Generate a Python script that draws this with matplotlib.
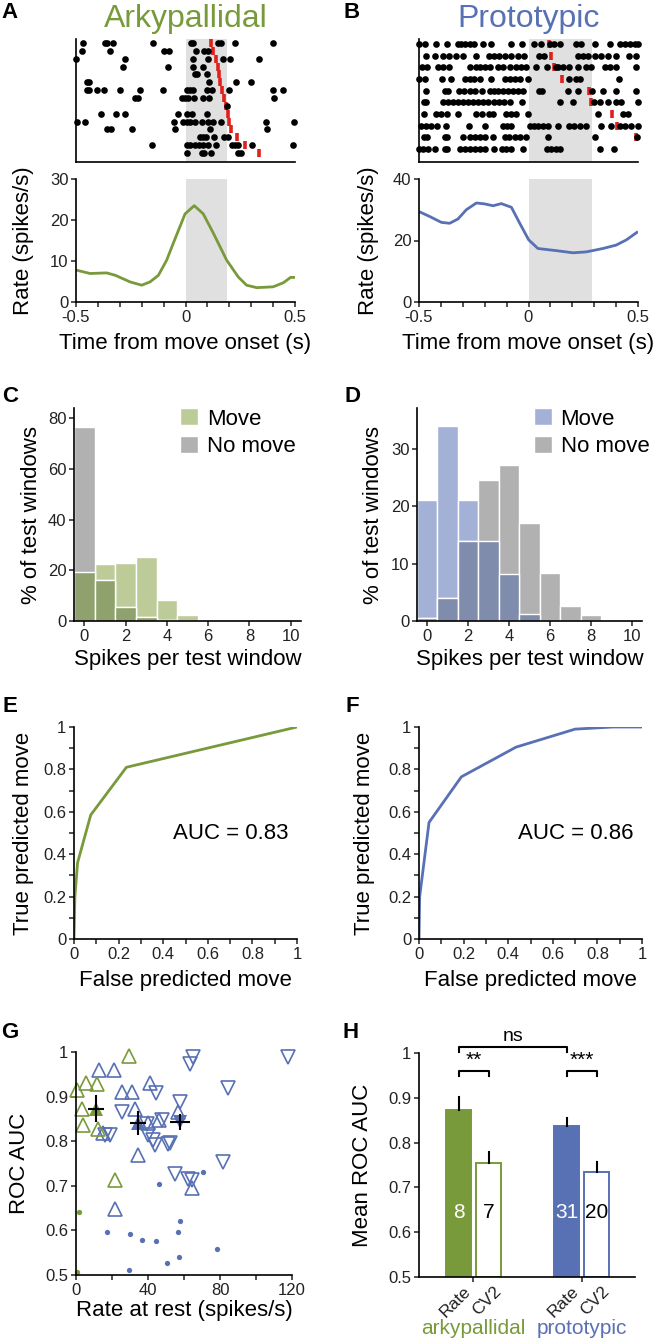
import numpy as np
import matplotlib
matplotlib.use('Agg')
import matplotlib.pyplot as plt
from matplotlib.patches import Patch

plt.rcParams['font.family'] = ['Liberation Sans', 'DejaVu Sans']
plt.rcParams['axes.unicode_minus'] = False

GREEN = '#789a3a'
BLUE = '#5870b4'

# ---- raster data (spike times in ms, one list per trial) ----
arky_spikes = [
    [-470, -368, -357, -333, -150, 24, 36, 150, 160, 228, 398],
    [-474, -345, -98, -74, 46, 84, 103],
    [-500, -276, 36, 101, 170, 203, 337],
    [-287, -78, 33, 81],
    [43, 54, 97],
    [-448, -439, 106, 231, 300],
    [-448, -439, -403, -372, -299, -208, -104, 8, 21, 33, 97, 119, 200, 398, 447],
    [-231, -216, -17, -2, 10, 40, 78, 109, 406],
    [188],
    [-387, -319, -276, -36, 8, 28, 97],
    [-494, -459, -53, -10, 8, 21, 43, 77, 104, 127, 160, 367, 497],
    [-360, -340, -246, -48, 112, 370],
    [66, 81, 92, 130, 178, 193],
    [-154, 8, 21, 43, 62, 81, 104, 139, 214, 226, 238, 302, 492],
    [8, 74, 84, 115, 238, 252],
]
arky_move_ms = [115, 127, 138, 150, 154, 159, 165, 176, 185, 193, 197, 209, 237, 272, 335]

proto_spikes = [
    [-500, -474, -424, -372, -322, -307, -292, -269, -250, -208, -170, -78, -28, 24, 59, 97,
     115, 142, 218, 241, 302, 371, 419, 439, 462, 485, 500],
    [-466, -428, -390, -363, -332, -299, -238, -180, -159, -135, -109, -78, -48, -22, 48, 69,
     226, 249, 272, 302, 333, 363, 398, 459, 489],
    [-485, -463, -413, -390, -363, -269, -241, -220, -200, -174, -139, -116, -83, -56, -33, -10,
     33, 84, 125, 135, 157, 184, 226, 264, 287, 348, 371, 398, 489],
    [-500, -474, -393, -352, -292, -269, -250, -220, -170, -109, -86, -63, -40, -2, 184, 215,
     236, 413],
    [-466, -382, -367, -317, -296, -269, -246, -211, -177, -159, -139, -116, -94, -71, -48, -25,
     48, 63, 180, 226, 290, 340, 401, 489],
    [-479, -466, -390, -367, -345, -322, -299, -276, -253, -231, -208, -185, -159, -135, -113,
     -86, -28, 142, 203, 298, 325, 363, 401, 424, 500],
    [-479, -424, -398, -372, -322, -238, -211, -180, -162, -101, -78, -56, -2, 317, 431, 454],
    [-489, -466, -443, -420, -378, -272, -200, -116, -97, -78, 5, 24, 43, 66, 89, 135, 184, 210,
     236, 264, 333, 378, 416, 439, 469, 500],
    [-479, -463, -382, -372, -299, -266, -246, -223, -200, -162, -109, -89, -63, -37, -10, 89,
     302, 497],
    [-500, -482, -459, -428, -382, -372, -311, -292, -269, -246, -223, -200, -159, -119, -101,
     -78, -25, 84, 104, 127, 145, 325, 389],
]
proto_move_ms = [92, 101, 115, 153, 276, 284, 383, 404, 492, 560]

# ---- mean rate around movement onset ----
arky_t = [-0.5, -0.436, -0.36, -0.32, -0.253, -0.2, -0.162, -0.124, -0.086, -0.056, -0.002,
          0.04, 0.081, 0.127, 0.188, 0.241, 0.279, 0.325, 0.4, 0.447, 0.48, 0.5]
arky_rate = [7.8, 6.95, 7.1, 6.5, 4.9, 4.1, 4.9, 6.5, 10.2, 14.3, 21.5, 23.5, 21.5, 16.8, 10.2,
             6.1, 4.1, 3.5, 3.7, 4.7, 6.0, 6.0]
proto_t = [-0.5, -0.451, -0.398, -0.36, -0.322, -0.284, -0.238, -0.2, -0.162, -0.124, -0.078,
           -0.04, 0.001, 0.043, 0.127, 0.203, 0.264, 0.34, 0.4, 0.447, 0.5]
proto_rate = [29.4, 27.8, 25.9, 25.6, 27.0, 30.0, 32.2, 31.9, 31.3, 32.0, 30.8, 25.6, 20.2,
              17.4, 16.7, 16.0, 16.3, 17.4, 18.5, 20.2, 22.9]
arky_window = (0, 0.19)
proto_window = (0, 0.29)

# ---- spike count histograms (%) ----
spike_bins = np.arange(11)
arky_move_pct = [19.5, 22.3, 22.8, 25.2, 8.3, 2.5, 0, 0, 0, 0, 0]
arky_nomove_pct = [76.5, 16.0, 5.5, 1.5, 0.3, 0, 0, 0, 0, 0, 0]
proto_move_pct = [21.2, 34.0, 21.2, 14.0, 8.2, 1.2, 0, 0, 0, 0, 0]
proto_nomove_pct = [0.5, 4.0, 14.0, 24.7, 27.3, 17.2, 8.3, 2.7, 1.0, 0, 0]

# ---- ROC curves ----
roc_arky_fp = [0, 0.004, 0.016, 0.075, 0.235, 1.0]
roc_arky_tp = [0, 0.2, 0.36, 0.585, 0.81, 1.0]
roc_proto_fp = [0, 0.003, 0.045, 0.19, 0.435, 0.70, 0.87, 1.0]
roc_proto_tp = [0, 0.2, 0.55, 0.765, 0.905, 0.99, 1.0, 1.0]

# ---- AUC vs rate at rest ----
arky_up_rate = [0.5, 5.8, 11.8, 29.6, 3.5, 4.0, 12.4, 21.7]
arky_up_auc = [0.914, 0.931, 0.929, 0.991, 0.873, 0.836, 0.828, 0.713]
arky_ns_rate = [1.8, 0.3]
arky_ns_auc = [0.642, 0.507]
proto_up_rate = [13.0, 21.1, 25.4, 30.9, 41.1, 32.8, 40.2, 46.3, 15.2, 34.6, 21.7, 64.3, 56.8]
proto_up_auc = [0.959, 0.959, 0.910, 0.910, 0.930, 0.873, 0.840, 0.847, 0.818, 0.768, 0.649,
                0.694, 0.865]
proto_down_rate = [65.2, 63.3, 117.9, 84.6, 44.4, 57.8, 25.4, 16.1, 18.9, 39.3, 40.2, 43.9,
                   47.6, 52.2, 55.0, 62.4, 64.3, 81.5, 43.0, 51.3]
proto_down_auc = [0.988, 0.974, 0.988, 0.920, 0.908, 0.888, 0.865, 0.813, 0.815, 0.839, 0.815,
                   0.791, 0.847, 0.795, 0.727, 0.716, 0.713, 0.753, 0.802, 0.793]
proto_ns_rate = [17.4, 30.0, 36.5, 44.4, 45.9, 50.4, 29.4, 56.8, 57.8, 57.2, 70.7, 78.1]
proto_ns_auc = [0.597, 0.593, 0.578, 0.576, 0.705, 0.526, 0.511, 0.597, 0.621, 0.541, 0.731,
                0.558]
mean_rate = [11.1, 34.3, 57.8]
mean_auc = [0.873, 0.841, 0.843]
mean_rate_err = [4.2, 4.4, 5.8]
mean_auc_err = [0.030, 0.026, 0.019]

# ---- mean ROC AUC bars ----
bar_labels = ['Rate', 'CV2', 'Rate', 'CV2']
bar_values = [0.872, 0.754, 0.838, 0.735]
bar_err = [0.030, 0.025, 0.018, 0.022]
bar_counts = [8, 7, 31, 20]

W, H = 660, 1341
fig = plt.figure(figsize=(W / 100, H / 100), dpi=100)


def px_axes(x0, y0, x1, y1):
    return fig.add_axes([x0 / W, 1 - y1 / H, (x1 - x0) / W, (y1 - y0) / H])


def style(ax):
    for s in ['top', 'right']:
        ax.spines[s].set_visible(False)
    for s in ['left', 'bottom']:
        ax.spines[s].set_linewidth(1.2)
    ax.tick_params(which='both', direction='out', length=3.5, width=1.1, labelsize=12,
                   pad=2, colors='#222222')


LBL = 16

# ---------------- A / B raster ----------------
for x0, x1, spikes, moves, win, title, col in [
        (76, 295, arky_spikes, arky_move_ms, arky_window, 'Arkypallidal', GREEN),
        (419, 638, proto_spikes, proto_move_ms, proto_window, 'Prototypic', BLUE)]:
    ax = px_axes(x0, 39, x1, 162)
    style(ax)
    ax.set_xticks([])
    ax.set_yticks([])
    ax.axvspan(win[0], win[1], color='#e0e0e0', zorder=0, lw=0)
    n = len(spikes)
    for i, (sp, mv) in enumerate(zip(spikes, moves)):
        if mv / 1000 <= 0.5:
            ax.plot(mv / 1000, i, marker='|', color='#e0201b', ms=6, mew=2.6, zorder=2)
        sp = np.array(sp) / 1000
        ax.plot(sp, np.full(len(sp), i), 'o', color='k', ms=4.8, mew=0, zorder=3, clip_on=False)
    ax.set_xlim(-0.5, 0.5)
    if n == 15:
        ax.set_ylim(15.15, -0.51)
    else:
        ax.set_ylim(10.1, -0.43)
    fig.text((x0 + x1) / 2 / W, 1 - 27 / H, title, color=col,
             fontsize=23, ha='center', va='baseline')

# ---------------- A / B rate ----------------
for x0, x1, t, r, win, col, ymax, yt, ylx in [
        (76, 295, arky_t, arky_rate, arky_window, GREEN, 30, [0, 10, 20, 30], -0.19),
        (419, 638, proto_t, proto_rate, proto_window, BLUE, 40, [0, 20, 40], -0.183)]:
    ax = px_axes(x0, 179, x1, 302)
    style(ax)
    ax.axvspan(win[0], win[1], color='#e0e0e0', zorder=0, lw=0)
    ax.plot(t, r, color=col, lw=2.0, solid_capstyle='butt')
    ax.set_xlim(-0.5, 0.5)
    ax.set_ylim(0, ymax)
    ax.set_yticks(yt)
    ax.set_xticks(np.round(np.arange(-0.5, 0.51, 0.1), 1))
    ax.set_xticklabels(['-0.5', '', '', '', '', '0', '', '', '', '', '0.5'])
    ax.set_ylabel('Rate (spikes/s)', fontsize=LBL)
    ax.set_xlabel('Time from move onset (s)', fontsize=LBL)
    ax.yaxis.set_label_coords(ylx, 0.5)
    ax.xaxis.set_label_coords(0.5, -0.25)

# ---------------- C / D histograms ----------------
for x0, x1, mv, nm, light, dark, ymax, yt, ylx, lgx in [
        (74, 301, arky_move_pct, arky_nomove_pct, '#bccb98', '#8fa16c', 84,
         [0, 20, 40, 60, 80], -0.141, 0.43),
        (417, 642, proto_move_pct, proto_nomove_pct, '#a4b1d6', '#7f8cab', 37.2,
         [0, 10, 20, 30], -0.147, 0.48)]:
    ax = px_axes(x0, 408, x1, 621)
    style(ax)
    mv = np.array(mv)
    nm = np.array(nm)
    ax.bar(spike_bins, mv, width=1, color=light, edgecolor='white', lw=1.0)
    ax.bar(spike_bins, nm, width=1, color='#b1b1b1', edgecolor='white', lw=1.0)
    ax.bar(spike_bins, np.minimum(mv, nm), width=1, color=dark, edgecolor='white', lw=1.0)
    ax.set_xlim(-0.5, 10.5)
    ax.set_ylim(0, ymax)
    ax.set_xticks([0, 2, 4, 6, 8, 10])
    ax.set_yticks(yt)
    ax.set_ylabel('% of test windows', fontsize=LBL)
    ax.set_xlabel('Spikes per test window', fontsize=LBL)
    ax.yaxis.set_label_coords(ylx, 0.5)
    ax.xaxis.set_label_coords(0.5, -0.13)
    ax.legend(handles=[Patch(facecolor=light, edgecolor='white', label='Move'),
                       Patch(facecolor='#b1b1b1', edgecolor='white', label='No move')],
              loc='upper left', bbox_to_anchor=(lgx, 1.04),
              frameon=False, fontsize=LBL, handlelength=0.8, handleheight=0.8,
              handletextpad=0.4, labelspacing=0.3, borderaxespad=0)

# ---------------- E / F ROC ----------------
for x0, x1, fp, tp, col, auc, ylx in [
        (74, 297, roc_arky_fp, roc_arky_tp, GREEN, 'AUC = 0.83', -0.179),
        (419, 642, roc_proto_fp, roc_proto_tp, BLUE, 'AUC = 0.86', -0.197)]:
    ax = px_axes(x0, 727, x1, 939)
    style(ax)
    ax.plot(fp, tp, color=col, lw=2.0)
    ax.set_xlim(0, 1)
    ax.set_ylim(0, 1)
    ticks = np.round(np.arange(0, 1.01, 0.1), 1)
    labs = ['0', '', '0.2', '', '0.4', '', '0.6', '', '0.8', '', '1']
    ax.set_xticks(ticks)
    ax.set_xticklabels(labs)
    ax.set_yticks(ticks)
    ax.set_yticklabels(labs)
    ax.text(0.96, 0.5, auc, fontsize=LBL, ha='right', va='center')
    ax.set_ylabel('True predicted move', fontsize=LBL)
    ax.set_xlabel('False predicted move', fontsize=LBL)
    ax.yaxis.set_label_coords(ylx, 0.5)
    ax.xaxis.set_label_coords(0.5, -0.145)

# ---------------- G scatter ----------------
ax = px_axes(76, 1052, 292, 1275)
style(ax)
ax.plot(proto_ns_rate, proto_ns_auc, 'o', color=BLUE, ms=3.8, mew=0, clip_on=False)
ax.plot(arky_ns_rate, arky_ns_auc, 'o', color=GREEN, ms=3.8, mew=0, clip_on=False)
ax.plot(proto_down_rate, proto_down_auc, 'v', mfc='none', mec=BLUE, ms=10, mew=1.2,
        clip_on=False)
ax.plot(proto_up_rate, proto_up_auc, '^', mfc='none', mec=BLUE, ms=10, mew=1.2, clip_on=False)
ax.plot(arky_up_rate, arky_up_auc, '^', mfc='none', mec=GREEN, ms=10, mew=1.2, clip_on=False)
for xr, ya, xe, ye, mk, col in zip(mean_rate, mean_auc, mean_rate_err, mean_auc_err,
                                   ['^', '^', 'v'], [GREEN, BLUE, BLUE]):
    ax.plot(xr, ya, mk, color=col, ms=10, mew=0)
    ax.errorbar(xr, ya, xerr=xe, yerr=ye, fmt='none', ecolor='k', elinewidth=1.5, capsize=0)
ax.set_xlim(0, 120)
ax.set_ylim(0.5, 1.0)
ax.set_xticks(np.arange(0, 121, 20))
ax.set_xticklabels(['0', '', '40', '', '80', '', '120'])
ax.set_yticks(np.round(np.arange(0.5, 1.01, 0.1), 1))
ax.set_yticklabels(['0.5', '0.6', '0.7', '0.8', '0.9', '1'])
ax.set_ylabel('ROC AUC', fontsize=LBL)
ax.set_xlabel('Rate at rest (spikes/s)', fontsize=LBL)
ax.yaxis.set_label_coords(-0.213, 0.5)
ax.xaxis.set_label_coords(0.5, -0.11)

# ---------------- H bars ----------------
ax = px_axes(419, 1053, 635, 1277)
style(ax)
bar_pos = [0, 1, 3.6, 4.6]
bar_cols = [GREEN, GREEN, BLUE, BLUE]
for i, (p, v, e, n, c) in enumerate(zip(bar_pos, bar_values, bar_err, bar_counts, bar_cols)):
    filled = i % 2 == 0
    ax.bar(p, v - 0.5, bottom=0.5, width=0.83, color=c if filled else 'white',
           edgecolor=c, lw=1.4)
    ax.plot([p, p], [v, v + e], color='k', lw=1.5)
    ax.text(p, 0.643, str(n), color='white' if filled else 'black', fontsize=15,
            ha='center', va='center')
ax.set_xlim(-1.32, 5.88)
ax.set_ylim(0.5, 1.0)
ax.set_yticks(np.round(np.arange(0.5, 1.01, 0.1), 1))
ax.set_yticklabels(['0.5', '0.6', '0.7', '0.8', '0.9', '1'])
ax.set_xticks([0.48, 4.1])
ax.set_xticklabels([])
ax.set_xticks([p + 0.15 for p in bar_pos], minor=True)
ax.set_xticklabels(bar_labels, minor=True, rotation=45, ha='right', rotation_mode='anchor',
                   fontsize=12.5)
ax.tick_params(axis='x', which='minor', length=0, pad=5)
ax.set_ylabel('Mean ROC AUC', fontsize=LBL)
ax.yaxis.set_label_coords(-0.213, 0.5)
# significance brackets
for xa, xb, yb, txt in [(0, 3.6, 1.014, 'ns'), (0, 1, 0.960, '**'), (3.6, 4.6, 0.960, '***')]:
    ax.plot([xa, xa, xb, xb], [yb - 0.011, yb, yb, yb - 0.011], color='k', lw=1.5,
            clip_on=False)
    ax.text((xa + xb) / 2, yb + 0.003, txt, fontsize=14 if txt == 'ns' else 15,
            ha='center', va='bottom')
for gx, name, col in [(0.5, 'arkypallidal', GREEN), (4.1, 'prototypic', BLUE)]:
    ax.text(gx, -0.228, name, color=col, fontsize=15, ha='center', va='center',
            transform=ax.get_xaxis_transform())

# ---------------- panel letters ----------------
for lx, ly, letter in [(10, 13, 'A'), (352, 13, 'B'), (10, 396, 'C'), (352, 396, 'D'),
                       (10, 706, 'E'), (352, 706, 'F'), (10, 1033, 'G'), (351, 1032, 'H')]:
    fig.text(lx / W, 1 - ly / H, letter, fontsize=16, fontweight='bold', ha='center',
             va='center')

fig.savefig('out.png', dpi=100)
